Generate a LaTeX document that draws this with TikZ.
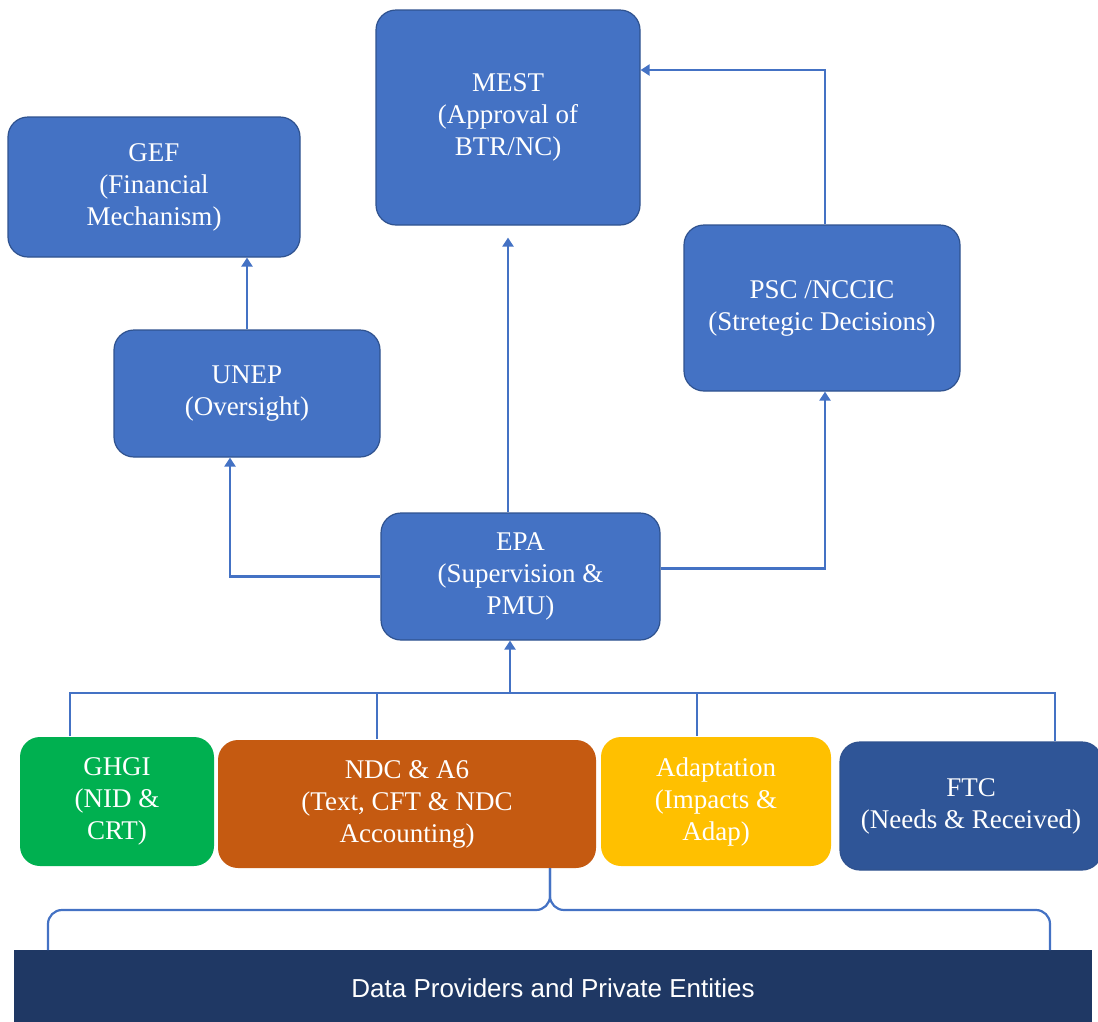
\documentclass[tikz,border=0pt]{standalone}
\usepackage{fontspec}
\setmainfont{Liberation Serif}
\setsansfont{Liberation Sans}
\usetikzlibrary{arrows.meta,calc}
\definecolor{boxblue}{HTML}{4472C4}
\definecolor{edgeblue}{HTML}{2F528F}
\definecolor{ftcblue}{HTML}{2F5597}
\definecolor{barnavy}{HTML}{1F3864}
\definecolor{ghgreen}{HTML}{00B050}
\definecolor{ndcorange}{HTML}{C55A11}
\definecolor{adpyellow}{HTML}{FFC000}
\definecolor{linkblue}{HTML}{4472C4}
\tikzset{
  box/.style={rectangle, rounded corners=20pt, draw=edgeblue, line width=1.2pt, fill=boxblue,
    text=white, align=center, inner sep=0pt, font=\fontsize{27}{32}\selectfont},
  flatbox/.style={box, draw=none},
  link/.style={draw=linkblue, line width=2.2pt},
  arr/.style={link, -{Triangle[width=11pt,length=9pt]}},
  bar/.style={rectangle, fill=barnavy, text=white, inner sep=0pt,
    font=\sffamily\fontsize{26}{30}\selectfont}
}
\begin{document}
\begin{tikzpicture}[x=1pt,y=-1pt]
\useasboundingbox (0,0) rectangle (1098,1021);

\node[box, minimum width=292pt, minimum height=140pt] (GEF) at (154,187) {GEF\\(Financial\\Mechanism)};
\node[box, minimum width=264pt, minimum height=215pt] (MEST) at (508,117.5) {MEST\\(Approval of\\BTR/NC)};
\node[box, minimum width=266pt, minimum height=127pt] (UNEP) at (247,393.5) {UNEP\\(Oversight)};
\node[box, minimum width=276pt, minimum height=166pt] (PSC) at (822,308) {PSC /NCCIC\\(Stretegic Decisions)};
\node[box, minimum width=279pt, minimum height=127pt] (EPA) at (520.5,576.5) {EPA\\(Supervision \&\\PMU)};

\node[flatbox, fill=ghgreen, minimum width=194pt, minimum height=129pt] (GHGI) at (117,801.5) {GHGI\\(NID \&\\CRT)};
\node[flatbox, fill=ndcorange, minimum width=378pt, minimum height=128pt] (NDC) at (407,804) {NDC \& A6\\(Text, CFT \& NDC\\Accounting)};
\node[flatbox, fill=adpyellow, minimum width=230pt, minimum height=129pt] (ADP) at (716,801.5) {Adaptation\\(Impacts \&\\Adap)};
\node[box, fill=ftcblue, minimum width=262pt, minimum height=128pt] (FTC) at (971,806) {FTC\\(Needs \& Received)};

\node[bar, minimum width=1078pt, minimum height=76pt] (DATA) at (553,988) {Data Providers and Private Entities};

% bus from the reporting teams to EPA
\coordinate (busL) at (70,693);
\coordinate (busR) at (1055,693);
\coordinate (busN) at (377,693);
\coordinate (busA) at (697,693);
\coordinate (busE) at (510,693);
\draw[link] (busL |- GHGI.north) -- (busL) -- (busR) -- (busR |- FTC.north);
\draw[link] (busN) -- (busN |- NDC.north);
\draw[link] (busA) -- (busA |- ADP.north);
\draw[arr] (busE) -- (busE |- EPA.south);

% EPA outputs
\draw[arr, shorten >=12pt] (EPA.north -| MEST.south) -- (MEST.south);
\draw[arr] (EPA.west) -| ([xshift=-17pt]UNEP.south);
\draw[arr] ([yshift=8pt]EPA.east) -| ([xshift=3pt]PSC.south);
\draw[arr] (UNEP.north) -- (UNEP.north |- GEF.south);
\draw[arr] ([xshift=3pt]PSC.north) |- ([yshift=47.5pt]MEST.east);

% brace under the reporting teams
\coordinate (braceTip) at (550,868);
\draw[link, rounded corners=14pt] (48,950) -- (48,910) -- (550,910) -- (braceTip);
\draw[link, rounded corners=14pt] (1050,950) -- (1050,910) -- (550,910) -- (braceTip);
\end{tikzpicture}
\end{document}
